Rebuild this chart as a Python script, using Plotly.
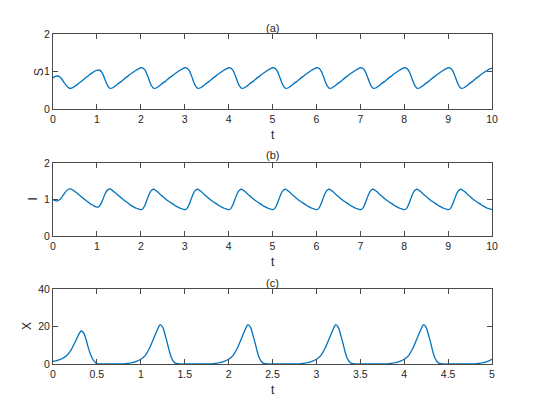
import plotly.graph_objects as go

# ---- data ----
# panels (a) and (b): t from 0 to 10, sampled every 0.05
t_si = [
    0.00, 0.05, 0.10, 0.15, 0.20, 0.25, 0.30, 0.35, 0.40, 0.45, 0.50, 0.55, 0.60, 0.65, 0.70, 0.75, 0.80, 0.85, 0.90, 0.95,
    1.00, 1.05, 1.10, 1.15, 1.20, 1.25, 1.30, 1.35, 1.40, 1.45, 1.50, 1.55, 1.60, 1.65, 1.70, 1.75, 1.80, 1.85, 1.90, 1.95,
    2.00, 2.05, 2.10, 2.15, 2.20, 2.25, 2.30, 2.35, 2.40, 2.45, 2.50, 2.55, 2.60, 2.65, 2.70, 2.75, 2.80, 2.85, 2.90, 2.95,
    3.00, 3.05, 3.10, 3.15, 3.20, 3.25, 3.30, 3.35, 3.40, 3.45, 3.50, 3.55, 3.60, 3.65, 3.70, 3.75, 3.80, 3.85, 3.90, 3.95,
    4.00, 4.05, 4.10, 4.15, 4.20, 4.25, 4.30, 4.35, 4.40, 4.45, 4.50, 4.55, 4.60, 4.65, 4.70, 4.75, 4.80, 4.85, 4.90, 4.95,
    5.00, 5.05, 5.10, 5.15, 5.20, 5.25, 5.30, 5.35, 5.40, 5.45, 5.50, 5.55, 5.60, 5.65, 5.70, 5.75, 5.80, 5.85, 5.90, 5.95,
    6.00, 6.05, 6.10, 6.15, 6.20, 6.25, 6.30, 6.35, 6.40, 6.45, 6.50, 6.55, 6.60, 6.65, 6.70, 6.75, 6.80, 6.85, 6.90, 6.95,
    7.00, 7.05, 7.10, 7.15, 7.20, 7.25, 7.30, 7.35, 7.40, 7.45, 7.50, 7.55, 7.60, 7.65, 7.70, 7.75, 7.80, 7.85, 7.90, 7.95,
    8.00, 8.05, 8.10, 8.15, 8.20, 8.25, 8.30, 8.35, 8.40, 8.45, 8.50, 8.55, 8.60, 8.65, 8.70, 8.75, 8.80, 8.85, 8.90, 8.95,
    9.00, 9.05, 9.10, 9.15, 9.20, 9.25, 9.30, 9.35, 9.40, 9.45, 9.50, 9.55, 9.60, 9.65, 9.70, 9.75, 9.80, 9.85, 9.90, 9.95,
    10.00,
]

S = [
    0.83, 0.87, 0.88, 0.86, 0.80, 0.71, 0.63, 0.57, 0.55, 0.57, 0.61, 0.65, 0.70, 0.74, 0.79, 0.84, 0.88, 0.93, 0.97, 1.01,
    1.03, 1.04, 1.00, 0.89, 0.74, 0.61, 0.55, 0.56, 0.60, 0.64, 0.69, 0.73, 0.78, 0.83, 0.87, 0.92, 0.96, 1.00, 1.04, 1.07,
    1.10, 1.09, 1.03, 0.90, 0.74, 0.61, 0.55, 0.56, 0.60, 0.64, 0.69, 0.73, 0.78, 0.83, 0.87, 0.92, 0.96, 1.00, 1.04, 1.07,
    1.10, 1.09, 1.03, 0.90, 0.74, 0.61, 0.55, 0.56, 0.60, 0.64, 0.69, 0.73, 0.78, 0.83, 0.87, 0.92, 0.96, 1.00, 1.04, 1.07,
    1.10, 1.09, 1.03, 0.90, 0.74, 0.61, 0.55, 0.56, 0.60, 0.64, 0.69, 0.73, 0.78, 0.83, 0.87, 0.92, 0.96, 1.00, 1.04, 1.07,
    1.10, 1.09, 1.03, 0.90, 0.74, 0.61, 0.55, 0.56, 0.60, 0.64, 0.69, 0.73, 0.78, 0.83, 0.87, 0.92, 0.96, 1.00, 1.04, 1.07,
    1.10, 1.09, 1.03, 0.90, 0.74, 0.61, 0.55, 0.56, 0.60, 0.64, 0.69, 0.73, 0.78, 0.83, 0.87, 0.92, 0.96, 1.00, 1.04, 1.07,
    1.10, 1.09, 1.03, 0.90, 0.74, 0.61, 0.55, 0.56, 0.60, 0.64, 0.69, 0.73, 0.78, 0.83, 0.87, 0.92, 0.96, 1.00, 1.04, 1.07,
    1.10, 1.09, 1.03, 0.90, 0.74, 0.61, 0.55, 0.56, 0.60, 0.64, 0.69, 0.73, 0.78, 0.83, 0.87, 0.92, 0.96, 1.00, 1.04, 1.07,
    1.10, 1.09, 1.03, 0.90, 0.74, 0.61, 0.55, 0.56, 0.60, 0.64, 0.69, 0.73, 0.78, 0.83, 0.87, 0.92, 0.96, 1.00, 1.04, 1.07,
    1.09,
]

I = [
    1.00, 0.97, 0.96, 0.99, 1.06, 1.15, 1.23, 1.28, 1.29, 1.26, 1.22, 1.17, 1.12, 1.07, 1.02, 0.97, 0.93, 0.88, 0.85, 0.81,
    0.79, 0.81, 0.90, 1.05, 1.19, 1.27, 1.29, 1.25, 1.20, 1.15, 1.10, 1.05, 1.00, 0.95, 0.91, 0.86, 0.82, 0.79, 0.76, 0.74,
    0.72, 0.75, 0.86, 1.02, 1.17, 1.26, 1.28, 1.24, 1.19, 1.13, 1.08, 1.03, 0.98, 0.94, 0.90, 0.86, 0.82, 0.79, 0.76, 0.74,
    0.72, 0.75, 0.86, 1.02, 1.17, 1.26, 1.28, 1.24, 1.19, 1.13, 1.08, 1.03, 0.98, 0.94, 0.90, 0.86, 0.82, 0.79, 0.76, 0.74,
    0.72, 0.75, 0.86, 1.02, 1.17, 1.26, 1.28, 1.24, 1.19, 1.13, 1.08, 1.03, 0.98, 0.94, 0.90, 0.86, 0.82, 0.79, 0.76, 0.74,
    0.72, 0.75, 0.86, 1.02, 1.17, 1.26, 1.28, 1.24, 1.19, 1.13, 1.08, 1.03, 0.98, 0.94, 0.90, 0.86, 0.82, 0.79, 0.76, 0.74,
    0.72, 0.75, 0.86, 1.02, 1.17, 1.26, 1.28, 1.24, 1.19, 1.13, 1.08, 1.03, 0.98, 0.94, 0.90, 0.86, 0.82, 0.79, 0.76, 0.74,
    0.72, 0.75, 0.86, 1.02, 1.17, 1.26, 1.28, 1.24, 1.19, 1.13, 1.08, 1.03, 0.98, 0.94, 0.90, 0.86, 0.82, 0.79, 0.76, 0.74,
    0.72, 0.75, 0.86, 1.02, 1.17, 1.26, 1.28, 1.24, 1.19, 1.13, 1.08, 1.03, 0.98, 0.94, 0.90, 0.86, 0.82, 0.79, 0.76, 0.74,
    0.72, 0.75, 0.86, 1.02, 1.17, 1.26, 1.28, 1.24, 1.19, 1.13, 1.08, 1.03, 0.98, 0.94, 0.90, 0.86, 0.82, 0.79, 0.76, 0.74,
    0.72,
]

# panel (c): t from 0 to 5, denser around the peaks
t_x = [
    0.00, 0.05, 0.10, 0.15, 0.20, 0.25, 0.30, 0.32, 0.35, 0.38, 0.40, 0.43, 0.45, 0.48, 0.50, 0.55, 0.60, 0.70, 0.75, 0.80, 0.85, 0.90, 0.95,
    1.00, 1.05, 1.10, 1.15, 1.20, 1.22, 1.25, 1.28, 1.30, 1.33, 1.35, 1.38, 1.40, 1.45, 1.50, 1.60, 1.70, 1.75, 1.80, 1.85, 1.90, 1.95,
    2.00, 2.05, 2.10, 2.15, 2.20, 2.22, 2.25, 2.28, 2.30, 2.33, 2.35, 2.38, 2.40, 2.45, 2.50, 2.60, 2.70, 2.75, 2.80, 2.85, 2.90, 2.95,
    3.00, 3.05, 3.10, 3.15, 3.20, 3.22, 3.25, 3.28, 3.30, 3.33, 3.35, 3.38, 3.40, 3.45, 3.50, 3.60, 3.70, 3.75, 3.80, 3.85, 3.90, 3.95,
    4.00, 4.05, 4.10, 4.15, 4.20, 4.22, 4.25, 4.28, 4.30, 4.33, 4.35, 4.38, 4.40, 4.45, 4.50, 4.60, 4.70, 4.75, 4.80, 4.85, 4.90, 4.95,
    5.00,
]

X = [
    1.4, 1.9, 2.8, 4.3, 7.0, 11.5, 16.3, 17.6, 16.5, 12.5, 9.0, 4.8, 2.8, 0.9, 0.2, 0.0, 0.0, 0.0, 0.05, 0.1, 0.3, 0.7, 1.4,
    2.5, 4.5, 8.5, 14.0, 19.5, 21.0, 19.5, 15.0, 11.5, 6.0, 3.2, 0.9, 0.3, 0.0, 0.0, 0.0, 0.0, 0.05, 0.1, 0.3, 0.7, 1.4,
    2.5, 4.5, 8.5, 14.0, 19.5, 21.0, 19.5, 15.0, 11.5, 6.0, 3.2, 0.9, 0.3, 0.0, 0.0, 0.0, 0.0, 0.05, 0.1, 0.3, 0.7, 1.4,
    2.5, 4.5, 8.5, 14.0, 19.5, 21.0, 19.5, 15.0, 11.5, 6.0, 3.2, 0.9, 0.3, 0.0, 0.0, 0.0, 0.0, 0.05, 0.1, 0.3, 0.7, 1.4,
    2.5, 4.5, 8.5, 14.0, 19.5, 21.0, 19.5, 15.0, 11.5, 6.0, 3.2, 0.9, 0.3, 0.0, 0.0, 0.0, 0.0, 0.05, 0.1, 0.3, 0.7, 1.4,
    2.5,
]

panel_titles = ["(a)", "(b)", "(c)"]
y_labels = ["S", "I", "X"]
x_ticks_10 = [0, 1, 2, 3, 4, 5, 6, 7, 8, 9, 10]
x_ticks_5 = [0, 0.5, 1, 1.5, 2, 2.5, 3, 3.5, 4, 4.5, 5]

LINE = "#0072BD"
AXC = "#4a4a4a"
TXT = "#262626"
FONT = "Liberation Sans, Arial, sans-serif"

fig = go.Figure()
fig.add_trace(go.Scatter(x=t_si, y=S, mode="lines", line=dict(color=LINE, width=1.3, shape="spline", smoothing=0.8),
                         xaxis="x", yaxis="y", showlegend=False))
fig.add_trace(go.Scatter(x=t_si, y=I, mode="lines", line=dict(color=LINE, width=1.3, shape="spline", smoothing=0.8),
                         xaxis="x2", yaxis="y2", showlegend=False))
fig.add_trace(go.Scatter(x=t_x, y=X, mode="lines", line=dict(color=LINE, width=1.3, shape="spline", smoothing=0.8),
                         xaxis="x3", yaxis="y3", showlegend=False))

# the page puts the plot 8px in from the top-left corner
OFF = 8
W, H = 553 - OFF, 400 - OFF


def px(p):
    return (p - OFF) / W


def py(p):
    return 1 - (p - OFF) / H


x_dom = [px(53), px(492)]
y_doms = [[py(109), py(34)], [py(236), py(163)], [py(364), py(289)]]

common = dict(showline=True, linecolor=AXC, linewidth=1, mirror="ticks", ticks="inside", ticklen=5,
              tickcolor=AXC, tickwidth=1, showgrid=False, zeroline=False, automargin=False,
              tickfont=dict(family=FONT, size=10.5, color=TXT))

layout = dict(width=W, height=H, margin=dict(l=0, r=0, t=0, b=0), plot_bgcolor="white",
              paper_bgcolor="white", showlegend=False)
x_ranges = [[0, 10], [0, 10], [0, 5]]
x_ticks = [x_ticks_10, x_ticks_10, x_ticks_5]
y_ranges = [[0, 2], [0, 2], [0, 40]]
y_ticks = [[0, 1, 2], [0, 1, 2], [0, 20, 40]]
for i in range(3):
    sx = "" if i == 0 else str(i + 1)
    layout["xaxis" + sx] = dict(domain=x_dom, range=x_ranges[i], tickvals=x_ticks[i],
                                anchor="y" + sx, **common)
    layout["yaxis" + sx] = dict(domain=y_doms[i], range=y_ranges[i], tickvals=y_ticks[i],
                                anchor="x" + sx, **common)
fig.update_layout(**layout)

cx = px((53 + 492) / 2)
title_y = [28, 155, 283]
xlab_y = [135, 262, 390]
ylab_x = [39, 33, 27]
ylab_y = [72, 199.5, 326]
for i in range(3):
    fig.add_annotation(text=panel_titles[i], xref="paper", yref="paper", x=cx, y=py(title_y[i]),
                       xanchor="center", yanchor="middle", showarrow=False,
                       font=dict(family=FONT, size=11, color=TXT))
    fig.add_annotation(text="t", xref="paper", yref="paper", x=cx, y=py(xlab_y[i]),
                       xanchor="center", yanchor="middle", showarrow=False,
                       font=dict(family=FONT, size=12, color=TXT))
    fig.add_annotation(text=y_labels[i], xref="paper", yref="paper", x=px(ylab_x[i]), y=py(ylab_y[i]),
                       xanchor="center", yanchor="middle", showarrow=False, textangle=-90,
                       font=dict(family=FONT, size=12, color=TXT))

fig.write_html("out.html")
